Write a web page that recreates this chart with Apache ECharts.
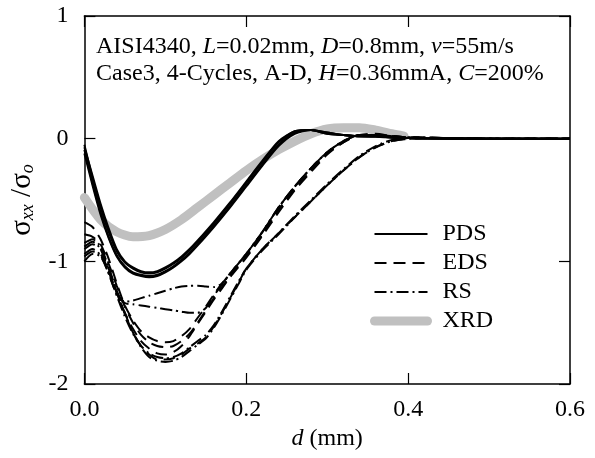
<!DOCTYPE html>
<html><head><meta charset="utf-8">
<script src="https://cdn.jsdelivr.net/npm/echarts@6/dist/echarts.min.js"></script>
<style>html,body{margin:0;padding:0;background:#fff}#c{width:595px;height:458px}</style>
</head><body><div id="c"></div>
<script>
// ---- data ----
const xTicks = [0.0, 0.2, 0.4, 0.6];
const yTicks = [-2, -1, 0, 1];
const legendNames = ['PDS', 'EDS', 'RS', 'XRD'];

const depthP = [0,0.01,0.02,0.03,0.04,0.05,0.06,0.07,0.08,0.09,0.10,0.11,0.12,0.13,0.14,0.16,0.18,0.20,0.22,0.24,0.26,0.28,0.30,0.32,0.34,0.36,0.38,0.40,0.45,0.50,0.55,0.60];
const pds1 = [-0.05,-0.32,-0.56,-0.76,-0.92,-1.01,-1.06,-1.09,-1.10,-1.09,-1.06,-1.02,-0.97,-0.91,-0.84,-0.69,-0.53,-0.36,-0.19,-0.03,0.06,0.07,0.04,0.03,0.02,0.02,0.01,0.005,0,0,0,0];
const pds2 = [-0.09,-0.36,-0.60,-0.80,-0.95,-1.04,-1.09,-1.11,-1.12,-1.11,-1.08,-1.04,-0.99,-0.93,-0.86,-0.71,-0.55,-0.38,-0.21,-0.05,0.05,0.07,0.05,0.03,0.02,0.02,0.01,0.005,0,0,0,0];
const pds3 = [-0.12,-0.38,-0.62,-0.81,-0.96,-1.05,-1.10,-1.12,-1.13,-1.12,-1.09,-1.05,-1.00,-0.94,-0.87,-0.72,-0.56,-0.39,-0.22,-0.06,0.04,0.07,0.05,0.03,0.02,0.015,0.01,0.005,0,0,0,0];
const pds4 = [-0.07,-0.30,-0.53,-0.73,-0.90,-1.00,-1.05,-1.08,-1.09,-1.08,-1.05,-1.01,-0.96,-0.90,-0.83,-0.68,-0.52,-0.35,-0.18,-0.02,0.06,0.07,0.04,0.03,0.02,0.02,0.01,0.005,0,0,0,0];

const depthX = [0,0.02,0.04,0.06,0.08,0.10,0.12,0.14,0.16,0.18,0.20,0.22,0.24,0.26,0.28,0.30,0.32,0.34,0.36,0.38,0.395];
const xrd = [-0.48,-0.66,-0.76,-0.80,-0.79,-0.74,-0.66,-0.56,-0.46,-0.36,-0.26,-0.17,-0.09,-0.02,0.04,0.08,0.09,0.09,0.07,0.04,0.02];

const depthE = [0,0.01,0.02,0.03,0.04,0.05,0.06,0.07,0.08,0.09,0.10,0.11,0.12,0.13,0.14,0.15,0.16,0.17,0.18,0.19,0.20,0.22,0.24,0.26,0.28,0.30,0.32,0.34,0.36,0.38,0.40,0.45,0.50,0.55,0.60];
const edsA = [-0.68,-0.72,-0.82,-0.98,-1.18,-1.36,-1.48,-1.57,-1.62,-1.65,-1.66,-1.65,-1.61,-1.55,-1.46,-1.37,-1.27,-1.18,-1.10,-1.02,-0.94,-0.76,-0.56,-0.39,-0.24,-0.11,-0.02,0.03,0.03,0.02,0.01,0.005,0,0,0];
const edsB = [-0.78,-0.80,-0.86,-1.02,-1.20,-1.37,-1.50,-1.60,-1.66,-1.69,-1.70,-1.69,-1.65,-1.59,-1.50,-1.40,-1.30,-1.21,-1.12,-1.04,-0.96,-0.78,-0.58,-0.41,-0.26,-0.12,-0.03,0.03,0.03,0.02,0.01,0.005,0,0,0];
const edsC = [-0.90,-0.86,-0.90,-1.06,-1.25,-1.43,-1.58,-1.69,-1.76,-1.80,-1.80,-1.79,-1.76,-1.71,-1.67,-1.62,-1.53,-1.42,-1.30,-1.18,-1.06,-0.90,-0.77,-0.64,-0.51,-0.38,-0.26,-0.15,-0.07,-0.02,0.00,0.005,0,0,0];
const edsD = [-0.96,-0.92,-0.94,-1.08,-1.26,-1.42,-1.55,-1.65,-1.71,-1.75,-1.76,-1.74,-1.69,-1.61,-1.51,-1.41,-1.31,-1.22,-1.13,-1.05,-0.97,-0.79,-0.60,-0.42,-0.27,-0.13,-0.03,0.03,0.04,0.02,0.01,0.005,0,0,0];
const rsA = [-0.85,-0.82,-0.88,-1.05,-1.24,-1.42,-1.58,-1.70,-1.78,-1.81,-1.82,-1.81,-1.78,-1.73,-1.68,-1.63,-1.54,-1.43,-1.31,-1.19,-1.07,-0.91,-0.78,-0.64,-0.51,-0.38,-0.26,-0.15,-0.07,-0.02,0.00,0.005,0,0,0];
const rsB = [-1.00,-0.94,-0.96,-1.10,-1.28,-1.45,-1.59,-1.69,-1.75,-1.78,-1.79,-1.78,-1.75,-1.70,-1.65,-1.60,-1.52,-1.41,-1.29,-1.17,-1.06,-0.90,-0.77,-0.63,-0.50,-0.37,-0.25,-0.14,-0.06,-0.01,0.01,0.005,0,0,0];
const rsC = [-0.88,-0.84,-0.90,-1.08,-1.25,-1.33,-1.32,-1.30,-1.28,-1.26,-1.24,-1.22,-1.205,-1.20,-1.20,-1.205,-1.21,-1.18,-1.10,-1.02,-0.94,-0.76,-0.56,-0.39,-0.24,-0.11,-0.02,0.03,0.03,0.02,0.01,0.005,0,0,0];
const rsD = [-0.94,-0.90,-0.95,-1.10,-1.27,-1.34,-1.35,-1.36,-1.37,-1.38,-1.39,-1.40,-1.41,-1.42,-1.42,-1.38,-1.28,-1.19,-1.10,-1.02,-0.94,-0.76,-0.56,-0.39,-0.24,-0.11,-0.02,0.03,0.03,0.02,0.01,0.005,0,0,0];

// ---- chart ----
const FONT = 'Liberation Serif';
const zip = (xs, ys) => xs.map((x, i) => [x, ys[i]]);
const solid = {color: '#000', width: 2, type: 'solid'};
const dashed = {color: '#000', width: 2, type: [12, 7]};
const dashdot = {color: '#000', width: 2, type: [12, 4, 2, 4]};
const xrdStyle = {color: '#c0c0c0', width: 9, type: 'solid', cap: 'round'};
function mk(name, xs, ys, ls, z) {
  return {name, type: 'line', data: zip(xs, ys), symbol: 'none', smooth: 0.25,
    lineStyle: ls, itemStyle: {color: ls.color}, z: z || 2, animation: false};
}
const series = [
  mk('XRD', depthX, xrd, xrdStyle, 1),
  mk('PDS', depthP, pds1, solid), mk('PDS', depthP, pds2, solid),
  mk('PDS', depthP, pds3, solid), mk('PDS', depthP, pds4, solid),
  mk('EDS', depthE, edsA, dashed), mk('EDS', depthE, edsB, dashed),
  mk('EDS', depthE, edsC, dashed), mk('EDS', depthE, edsD, dashed),
  mk('RS', depthE, rsA, dashdot), mk('RS', depthE, rsB, dashdot),
  mk('RS', depthE, rsC, dashdot), mk('RS', depthE, rsD, dashdot)
];

const axisCommon = {
  axisLine: {onZero: false, lineStyle: {color: '#000', width: 1.5}},
  axisTick: {inside: true, length: 11, lineStyle: {color: '#000', width: 1.2}},
  splitLine: {show: false}
};
const chart = echarts.init(document.getElementById('c'), null, {renderer: 'canvas'});
chart.setOption({
  animation: false,
  backgroundColor: '#fff',
  textStyle: {fontFamily: FONT},
  grid: {left: 79, right: 25, top: 16, bottom: 74},
  title: {
    left: 91, top: 28,
    text: 'AISI4340, {i|L}=0.02mm, {i|D}=0.8mm, {i|v}=55m/s\nCase3, 4-Cycles, A-D, {i|H}=0.36mmA, {i|C}=200%',
    textStyle: {fontFamily: FONT, fontSize: 24, fontWeight: 'normal', color: '#000', lineHeight: 27,
      rich: {i: {fontFamily: FONT, fontSize: 24, fontStyle: 'italic', color: '#000', lineHeight: 27}}}
  },
  legend: {
    data: legendNames.map(n => n === 'XRD' ? {name: n, lineStyle: {width: 9, cap: 'round'}} : {name: n}),
    orient: 'vertical', left: 370, top: 222, padding: 0,
    itemWidth: 53, itemHeight: 14, itemGap: 5,
    itemStyle: {opacity: 0},
    textStyle: {fontFamily: FONT, fontSize: 24, color: '#000', padding: [0, 0, 0, 10]}
  },
  xAxis: [
    Object.assign({type: 'value', min: 0, max: 0.6, interval: 0.2, position: 'bottom',
      axisLabel: {fontFamily: FONT, fontSize: 24, color: '#000', margin: 14, formatter: v => v.toFixed(1)},
      name: '{i|d} (mm)', nameLocation: 'middle', nameGap: 38,
      nameTextStyle: {fontFamily: FONT, fontSize: 24, color: '#000',
        rich: {i: {fontFamily: FONT, fontSize: 24, fontStyle: 'italic', color: '#000'}}}
    }, axisCommon),
    Object.assign({type: 'value', min: 0, max: 0.6, interval: 0.2, position: 'top',
      axisLabel: {show: false}}, axisCommon)
  ],
  yAxis: [
    Object.assign({type: 'value', min: -2, max: 1, interval: 1, position: 'left',
      axisLabel: {fontFamily: FONT, fontSize: 24, color: '#000', margin: 16},
      name: '{s|σ}{b|xx}{s| /σ}{b|o}', nameLocation: 'middle', nameGap: 27, nameRotate: 90,
      nameTextStyle: {fontFamily: FONT, fontSize: 26, color: '#000',
        rich: {
          s: {fontFamily: FONT, fontSize: 29, color: '#000', lineHeight: 30},
          b: {fontFamily: FONT, fontSize: 18, fontStyle: 'italic', color: '#000', lineHeight: 12, verticalAlign: 'bottom'}
        }}
    }, axisCommon),
    Object.assign({type: 'value', min: -2, max: 1, interval: 1, position: 'right',
      axisLabel: {show: false}}, axisCommon)
  ],
  series: series
});
</script></body></html>
